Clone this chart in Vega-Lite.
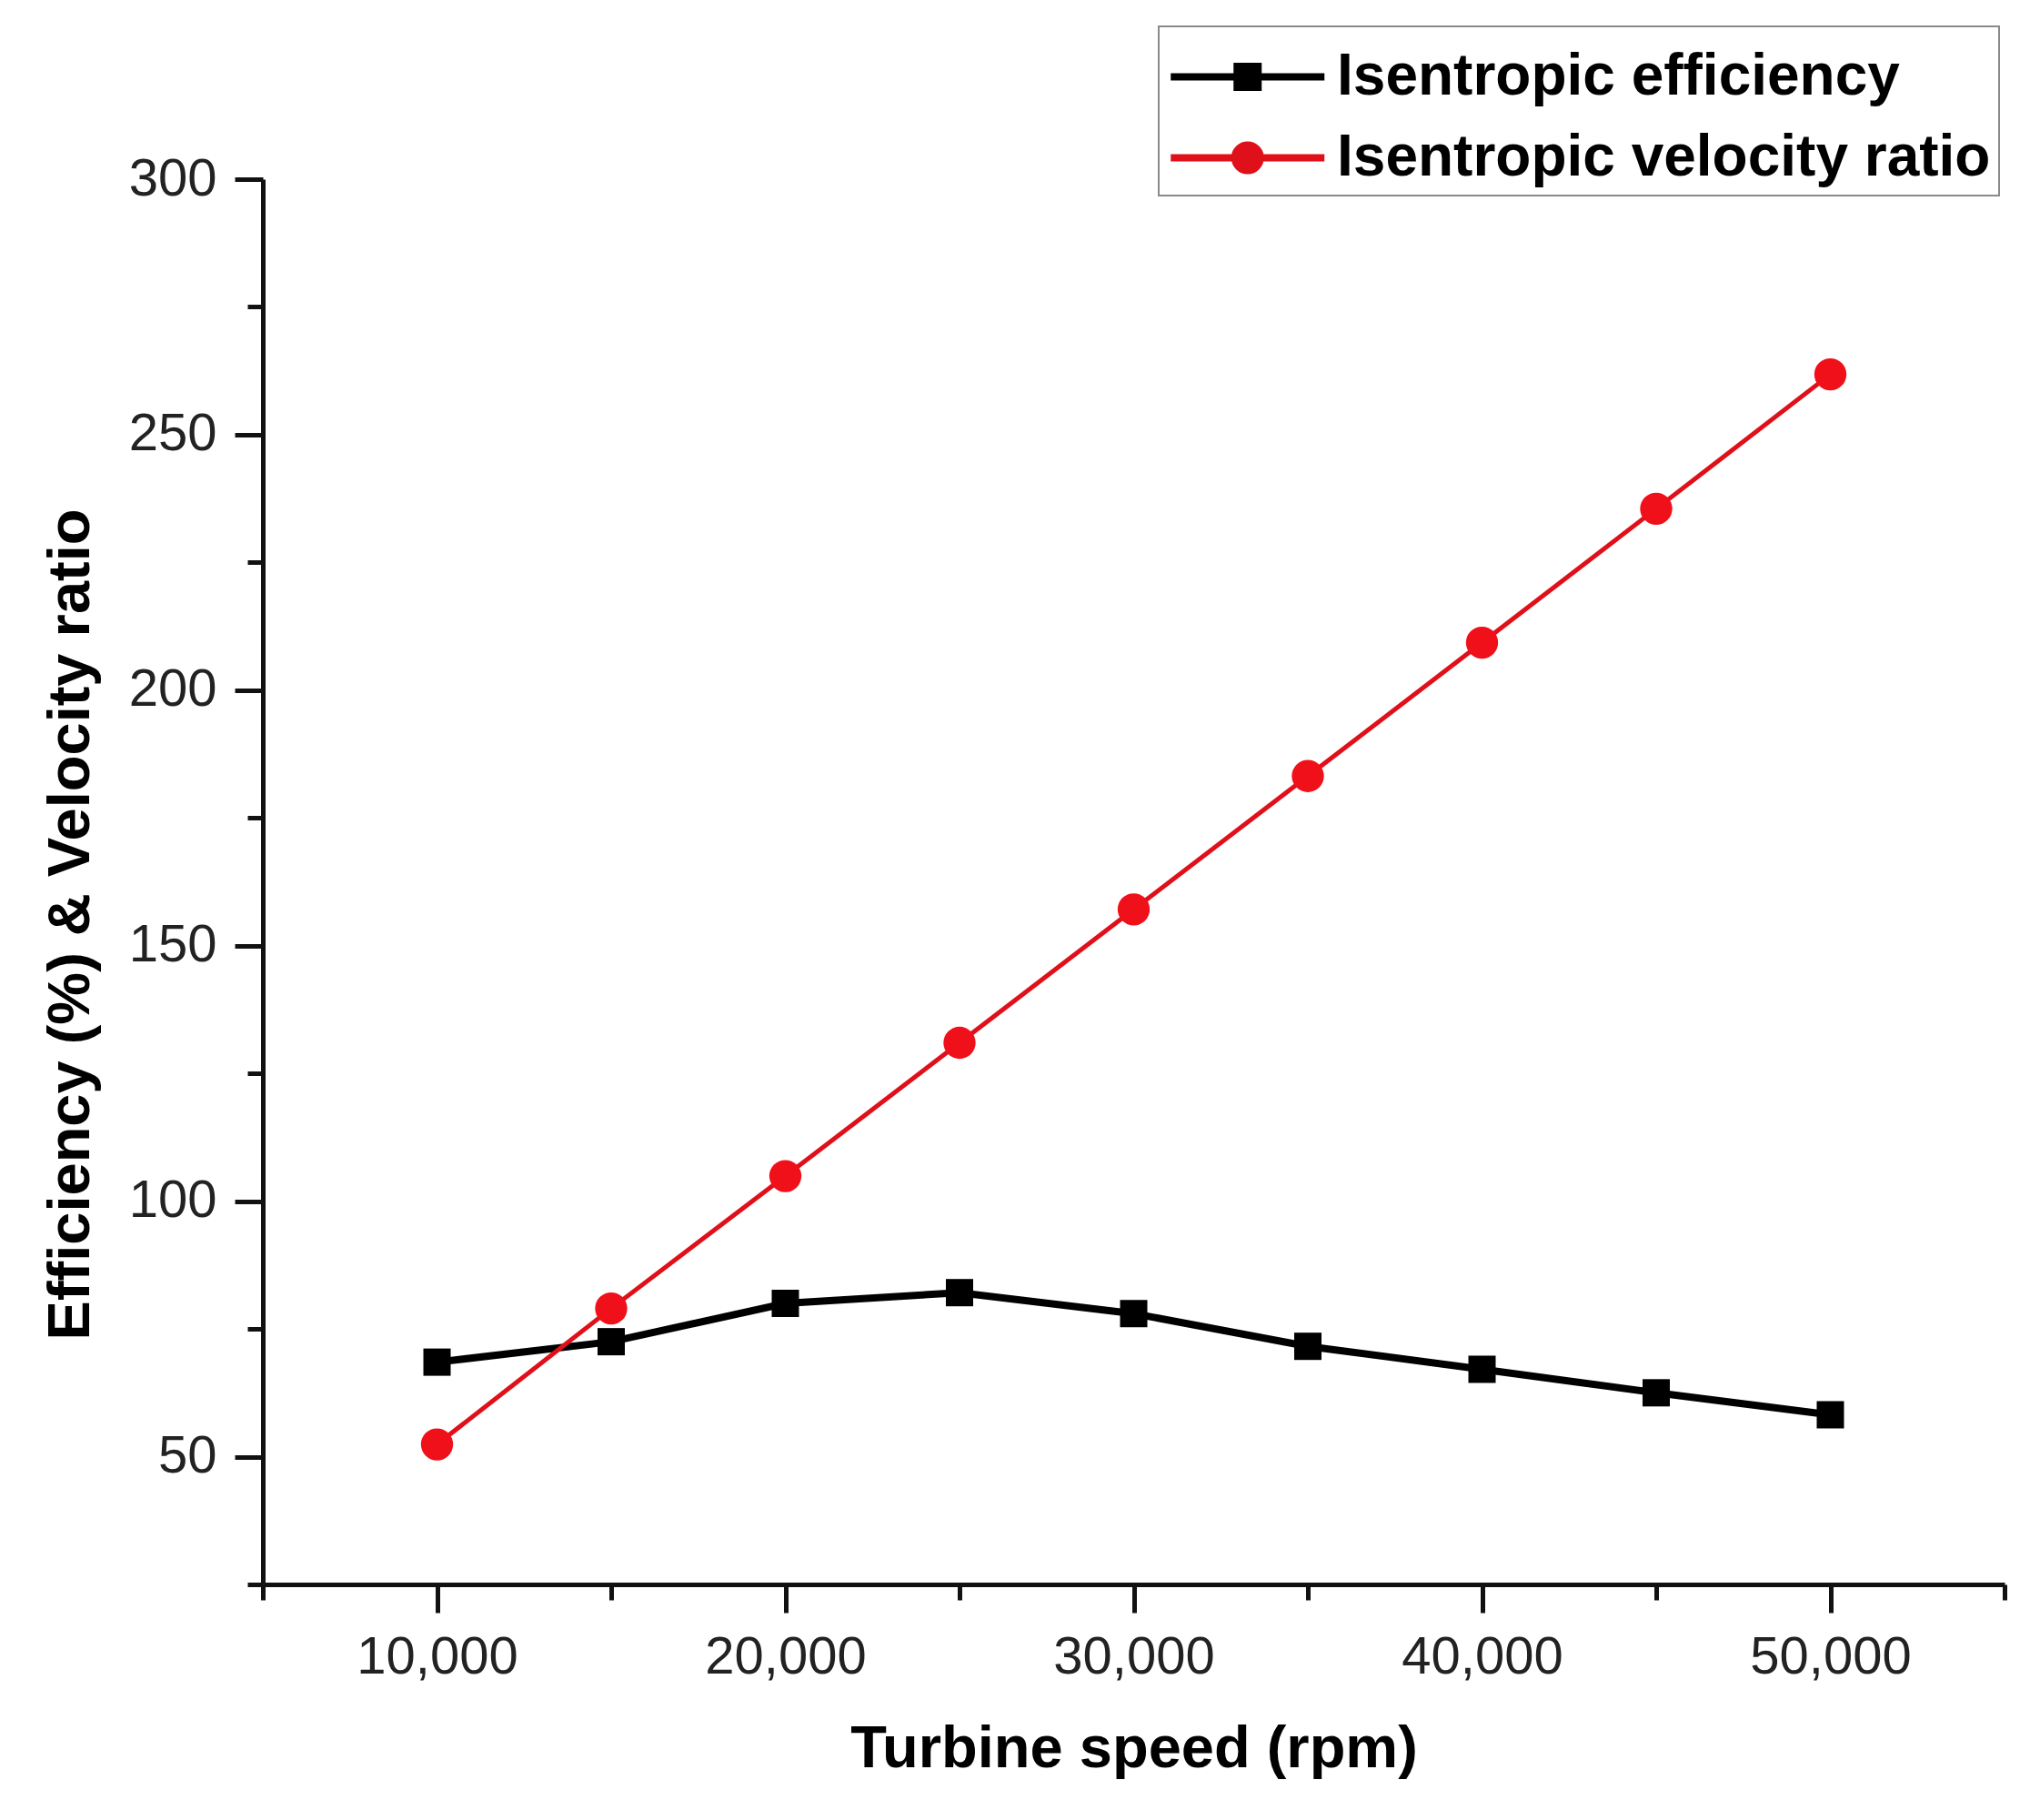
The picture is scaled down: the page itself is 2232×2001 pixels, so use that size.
{
  "$schema": "https://vega.github.io/schema/vega-lite/v6.json",
  "width": 1915,
  "height": 1545,
  "autosize": {"type": "none"},
  "padding": {"left": 289, "top": 197, "right": 28, "bottom": 259},
  "background": "white",
  "config": {
    "view": {"stroke": null},
    "font": "Liberation Sans",
    "axis": {
      "grid": false,
      "domainColor": "#111111",
      "domainWidth": 5,
      "tickColor": "#111111",
      "tickWidth": 5,
      "labelFont": "Liberation Sans",
      "labelFontSize": 58,
      "labelColor": "#222222",
      "labelOverlap": false,
      "labelFlush": false,
      "titleFont": "Liberation Sans",
      "titleFontSize": 65,
      "titleFontWeight": "bold",
      "titleColor": "#000000"
    },
    "legend": {
      "orient": "none",
      "legendX": 985,
      "legendY": -168,
      "strokeColor": "#8a8a8a",
      "strokeWidth": 2,
      "fillColor": "white",
      "padding": 9,
      "labelFont": "Liberation Sans",
      "labelFontSize": 64,
      "labelFontWeight": "bold",
      "labelColor": "#000000",
      "labelLimit": 2000,
      "labelOffset": 94,
      "symbolSize": 7140,
      "symbolStrokeWidth": 8,
      "symbolOpacity": 1,
      "rowPadding": 10
    }
  },
  "data": {
    "values": [
      {"speed": 10000, "series": "Isentropic efficiency", "value": 68.5},
      {"speed": 15000, "series": "Isentropic efficiency", "value": 72.5},
      {"speed": 20000, "series": "Isentropic efficiency", "value": 80.0},
      {"speed": 25000, "series": "Isentropic efficiency", "value": 82.1},
      {"speed": 30000, "series": "Isentropic efficiency", "value": 78.0},
      {"speed": 35000, "series": "Isentropic efficiency", "value": 71.6},
      {"speed": 40000, "series": "Isentropic efficiency", "value": 67.1},
      {"speed": 45000, "series": "Isentropic efficiency", "value": 62.5},
      {"speed": 50000, "series": "Isentropic efficiency", "value": 58.2},
      {"speed": 10000, "series": "Isentropic velocity ratio", "value": 52.4},
      {"speed": 15000, "series": "Isentropic velocity ratio", "value": 79.0},
      {"speed": 20000, "series": "Isentropic velocity ratio", "value": 104.9},
      {"speed": 25000, "series": "Isentropic velocity ratio", "value": 131.0},
      {"speed": 30000, "series": "Isentropic velocity ratio", "value": 157.1},
      {"speed": 35000, "series": "Isentropic velocity ratio", "value": 183.2},
      {"speed": 40000, "series": "Isentropic velocity ratio", "value": 209.3},
      {"speed": 45000, "series": "Isentropic velocity ratio", "value": 235.5},
      {"speed": 50000, "series": "Isentropic velocity ratio", "value": 261.8}
    ]
  },
  "encoding": {
    "x": {
      "field": "speed",
      "type": "quantitative",
      "scale": {"domain": [5000, 55000], "nice": false, "zero": false},
      "axis": {
        "title": "Turbine speed (rpm)",
        "values": [5000, 10000, 15000, 20000, 25000, 30000, 35000, 40000, 45000, 50000, 55000],
        "format": ",d",
        "labelExpr": "datum.value % 10000 == 0 ? datum.label : ''",
        "tickSize": {"condition": {"test": "datum.value % 10000 == 0", "value": 31}, "value": 17},
        "labelPadding": 20,
        "titlePadding": 40
      }
    },
    "y": {
      "field": "value",
      "type": "quantitative",
      "scale": {"domain": [25, 300], "nice": false, "zero": false},
      "axis": {
        "title": "Efficiency (%) & Velocity ratio",
        "values": [25, 50, 75, 100, 125, 150, 175, 200, 225, 250, 275, 300],
        "format": "d",
        "labelExpr": "datum.value % 50 == 0 ? datum.label : ''",
        "tickSize": {"condition": {"test": "datum.value % 50 == 0", "value": 31}, "value": 17},
        "labelPadding": 20,
        "titlePadding": 30,
        "titleY": 819
      }
    }
  },
  "layer": [
    {
      "transform": [{"filter": "datum.series == 'Isentropic efficiency'"}],
      "mark": {"type": "line", "color": "#000000", "strokeWidth": 8}
    },
    {
      "transform": [{"filter": "datum.series == 'Isentropic efficiency'"}],
      "mark": {"type": "square", "color": "#000000", "size": 900, "opacity": 1}
    },
    {
      "transform": [{"filter": "datum.series == 'Isentropic velocity ratio'"}],
      "mark": {"type": "line", "color": "#e0101a", "strokeWidth": 5}
    },
    {
      "transform": [{"filter": "datum.series == 'Isentropic velocity ratio'"}],
      "mark": {"type": "circle", "color": "#f0101a", "size": 1250, "opacity": 1}
    },
    {
      "transform": [{"filter": "false"}],
      "mark": {"type": "point", "filled": true, "strokeWidth": 8, "opacity": 1},
      "encoding": {
        "fill": {
          "field": "series",
          "type": "nominal",
          "scale": {"domain": ["Isentropic efficiency", "Isentropic velocity ratio"], "range": ["#000000", "#e0101a"]},
          "legend": {"title": null}
        },
        "stroke": {
          "field": "series",
          "type": "nominal",
          "scale": {"domain": ["Isentropic efficiency", "Isentropic velocity ratio"], "range": ["#000000", "#e0101a"]},
          "legend": {"title": null}
        },
        "shape": {
          "field": "series",
          "type": "nominal",
          "scale": {
            "domain": ["Isentropic efficiency", "Isentropic velocity ratio"],
            "range": [
              "M-1,0H3M0.728,-0.272H1.272V0.272H0.728Z",
              "M-1,0H3M0.669,0A0.331,0.331,0,1,0,1.331,0A0.331,0.331,0,1,0,0.669,0Z"
            ]
          },
          "legend": {"title": null}
        }
      }
    }
  ]
}
